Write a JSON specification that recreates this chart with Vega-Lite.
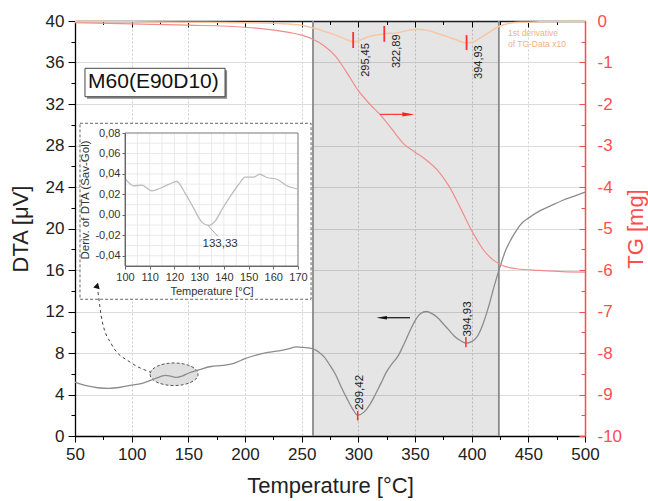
{
  "$schema": "https://vega.github.io/schema/vega-lite/v6.json",
  "width": 510,
  "height": 415,
  "autosize": {"type": "none"},
  "padding": {"left": 75, "top": 21, "right": 63, "bottom": 65},
  "background": "white",
  "config": {
    "font": "Liberation Sans",
    "view": {"stroke": null},
    "locale": {"number": {"decimal": ",", "thousands": ".", "grouping": [3], "currency": ["", " €"], "minus": "-"}},
    "axis": {"labelFont": "Liberation Sans", "titleFont": "Liberation Sans", "titleFontWeight": "normal", "labelColor": "#222", "titleColor": "#222", "domainColor": "#000", "tickColor": "#000", "labelFlush": false, "labelOverlap": false}
  },
  "resolve": {"scale": {"x": "independent", "y": "independent"}, "axis": {"x": "independent", "y": "independent"}},
  "layer": [
    {
      "data": {"values": [{"x": 50, "y": 0}, {"x": 500, "y": 40}]},
      "mark": {"type": "point", "opacity": 0},
      "encoding": {
        "x": {"field": "x", "type": "quantitative", "scale": {"domain": [50, 500], "nice": false, "zero": false},
          "axis": {"orient": "bottom", "values": [50, 100, 150, 200, 250, 300, 350, 400, 450, 500], "format": "d", "tickSize": 6, "labelPadding": 4, "labelFontSize": 17, "title": "Temperature [°C]", "titleFontSize": 22, "titlePadding": 13, "grid": true, "gridDash": [2, 2], "gridColor": "#cfcfcf", "domainWidth": 1.3}},
        "y": {"field": "y", "type": "quantitative", "scale": {"domain": [0, 40], "nice": false, "zero": false},
          "axis": {"orient": "left", "values": [0, 4, 8, 12, 16, 20, 24, 28, 32, 36, 40], "format": "d", "tickSize": 7, "labelPadding": 4, "labelFontSize": 17, "title": "DTA [μV]", "titleFontSize": 22, "titlePadding": 13, "grid": true, "gridColor": "#dcdcdc", "domainWidth": 1.3}}
      }
    },
    {
      "data": {"values": [{"x": 50, "y": -10}, {"x": 500, "y": 0}]},
      "mark": {"type": "point", "opacity": 0},
      "encoding": {
        "x": {"field": "x", "type": "quantitative", "scale": {"domain": [50, 500], "nice": false, "zero": false},
          "axis": {"orient": "top", "values": [50, 100, 150, 200, 250, 300, 350, 400, 450, 500], "labels": false, "tickSize": -6, "title": null, "grid": false, "domainWidth": 1.5, "domainColor": "#222"}},
        "y": {"field": "y", "type": "quantitative", "scale": {"domain": [-10, 0], "nice": false, "zero": false},
          "axis": {"orient": "right", "values": [0, -1, -2, -3, -4, -5, -6, -7, -8, -9, -10], "format": "d", "tickSize": -6, "labelPadding": 18, "labelFontSize": 17, "labelColor": "#ff4d4d", "tickColor": "#ff4d4d", "domainColor": "#ff4d4d", "domainWidth": 1.5, "title": "TG [mg]", "titleColor": "#ff4d4d", "titleFontSize": 22, "titleAngle": 270, "titleBaseline": "top", "titlePadding": 4, "grid": false}}
      }
    },
    {
      "data": {"values": [{"x": 50, "y": 0}, {"x": 500, "y": 40}]},
      "mark": {"type": "point", "opacity": 0},
      "encoding": {
        "x": {"field": "x", "type": "quantitative", "scale": {"domain": [50, 500], "nice": false, "zero": false},
          "axis": {"orient": "bottom", "values": [75, 125, 175, 225, 275, 325, 375, 425, 475], "labels": false, "tickSize": 3.5, "domain": false, "grid": false, "title": null}},
        "y": {"field": "y", "type": "quantitative", "scale": {"domain": [0, 40], "nice": false, "zero": false},
          "axis": {"orient": "left", "values": [2, 6, 10, 14, 18, 22, 26, 30, 34, 38], "labels": false, "tickSize": 4, "domain": false, "grid": false, "title": null}}
      }
    },
    {
      "data": {"values": [{"x": 50, "y": -10}, {"x": 500, "y": 0}]},
      "mark": {"type": "point", "opacity": 0},
      "encoding": {
        "x": {"field": "x", "type": "quantitative", "scale": {"domain": [50, 500], "nice": false, "zero": false},
          "axis": {"orient": "top", "values": [75, 125, 175, 225, 275, 325, 375, 425, 475], "labels": false, "tickSize": -3.5, "domain": false, "grid": false, "title": null}},
        "y": {"field": "y", "type": "quantitative", "scale": {"domain": [-10, 0], "nice": false, "zero": false},
          "axis": {"orient": "right", "values": [-0.5, -1.5, -2.5, -3.5, -4.5, -5.5, -6.5, -7.5, -8.5, -9.5], "labels": false, "tickSize": -4, "tickColor": "#ff4d4d", "domain": false, "grid": false, "title": null}}
      }
    },
    {
      "layer": [
        {
          "data": {"values": [{"T1": 260, "T2": 424}]},
          "mark": {"type": "rect", "fill": "#000", "opacity": 0.1},
          "encoding": {"x": {"field": "T1", "type": "quantitative", "axis": null}, "x2": {"field": "T2"}}
        },
        {
          "data": {"values": [{"T": 260}, {"T": 424}]},
          "mark": {"type": "rule", "color": "#8a8a8a", "strokeWidth": 1.8},
          "encoding": {"x": {"field": "T", "type": "quantitative", "axis": null}}
        },
        {
          "data": {"values": [{"T1": 54.4, "T2": 258.3, "D1": 13.18, "D2": 30.14}]},
          "mark": {"type": "rect", "fill": "white", "stroke": "#666", "strokeWidth": 1, "strokeDash": [3, 2]},
          "encoding": {"x": {"field": "T1", "type": "quantitative", "axis": null}, "x2": {"field": "T2"}, "y": {"field": "D1", "type": "quantitative", "axis": null}, "y2": {"field": "D2"}}
        },
        {
          "data": {"values": [{"T1": 60.6, "T2": 184.2, "D1": 32.5, "D2": 35.25}]},
          "mark": {"type": "rect", "fill": "#888", "stroke": null},
          "encoding": {"x": {"field": "T1", "type": "quantitative", "axis": null}, "x2": {"field": "T2"}, "y": {"field": "D1", "type": "quantitative", "axis": null}, "y2": {"field": "D2"}}
        },
        {
          "data": {"values": [{"T1": 58.8, "T2": 182.4, "D1": 32.7, "D2": 35.44}]},
          "mark": {"type": "rect", "fill": "white", "stroke": "#444", "strokeWidth": 1},
          "encoding": {"x": {"field": "T1", "type": "quantitative", "axis": null}, "x2": {"field": "T2"}, "y": {"field": "D1", "type": "quantitative", "axis": null}, "y2": {"field": "D2"}}
        },
        {
          "data": {"values": [{"T": 61.5, "D": 34.1, "label": "M60(E90D10)"}]},
          "mark": {"type": "text", "align": "left", "baseline": "middle", "fontSize": 21, "color": "#111"},
          "encoding": {"x": {"field": "T", "type": "quantitative", "axis": null}, "y": {"field": "D", "type": "quantitative", "axis": null}, "text": {"field": "label"}}
        },
        {
          "data": {"values": [{"T": 70.3, "D": 13.88}, {"T": 73.8, "D": 11.18}, {"T": 82.6, "D": 8.77}, {"T": 98.5, "D": 7.13}, {"T": 116.2, "D": 6.17}]},
          "mark": {"type": "line", "color": "#444", "strokeWidth": 1, "strokeDash": [3, 3], "interpolate": "monotone"},
          "encoding": {"x": {"field": "T", "type": "quantitative", "axis": null}, "y": {"field": "D", "type": "quantitative", "axis": null}}
        },
        {
          "data": {"values": [{"T": 69.6, "D": 14.5}]},
          "mark": {"type": "point", "shape": "triangle-up", "size": 45, "filled": true, "color": "#111", "opacity": 1, "angle": 15},
          "encoding": {"x": {"field": "T", "type": "quantitative", "axis": null}, "y": {"field": "D", "type": "quantitative", "axis": null}}
        },
        {
          "data": {"values": [{"T": 137.4, "D": 5.95}]},
          "mark": {"type": "point", "shape": "M -1 0 A 1 0.47 0 1 0 1 0 A 1 0.47 0 1 0 -1 0 Z", "size": 2304, "fill": "#dcdcdc", "fillOpacity": 0.9, "stroke": "#555", "strokeWidth": 1, "strokeDash": [3, 2], "opacity": 1},
          "encoding": {"x": {"field": "T", "type": "quantitative", "axis": null}, "y": {"field": "D", "type": "quantitative", "axis": null}}
        },
        {
          "data": {"values": [
            {"T": 50, "D": 5.2}, {"T": 55, "D": 5.0}, {"T": 60, "D": 4.85}, {"T": 70, "D": 4.65}, {"T": 80, "D": 4.6}, {"T": 90, "D": 4.7},
            {"T": 100, "D": 4.9}, {"T": 110, "D": 5.1}, {"T": 120, "D": 5.5}, {"T": 130, "D": 5.85}, {"T": 135, "D": 5.75}, {"T": 140, "D": 5.65},
            {"T": 145, "D": 5.8}, {"T": 150, "D": 6.05}, {"T": 160, "D": 6.4}, {"T": 170, "D": 6.7}, {"T": 180, "D": 6.8}, {"T": 190, "D": 7.0},
            {"T": 200, "D": 7.45}, {"T": 210, "D": 7.8}, {"T": 220, "D": 8.05}, {"T": 230, "D": 8.2}, {"T": 240, "D": 8.45}, {"T": 245, "D": 8.6},
            {"T": 250, "D": 8.55}, {"T": 255, "D": 8.5}, {"T": 260, "D": 8.4}, {"T": 265, "D": 8.1}, {"T": 270, "D": 7.6}, {"T": 275, "D": 6.8},
            {"T": 280, "D": 5.9}, {"T": 285, "D": 4.7}, {"T": 290, "D": 3.6}, {"T": 295, "D": 2.6}, {"T": 299.42, "D": 2.0}, {"T": 305, "D": 2.3},
            {"T": 310, "D": 3.0}, {"T": 315, "D": 4.0}, {"T": 320, "D": 5.1}, {"T": 325, "D": 6.2}, {"T": 330, "D": 7.0}, {"T": 335, "D": 7.7},
            {"T": 340, "D": 8.8}, {"T": 345, "D": 10.0}, {"T": 350, "D": 11.1}, {"T": 355, "D": 11.8}, {"T": 360, "D": 12.0}, {"T": 365, "D": 11.8},
            {"T": 370, "D": 11.4}, {"T": 375, "D": 10.8}, {"T": 380, "D": 10.2}, {"T": 385, "D": 9.6}, {"T": 390, "D": 9.2}, {"T": 394.93, "D": 8.95},
            {"T": 400, "D": 9.1}, {"T": 405, "D": 9.6}, {"T": 410, "D": 10.8}, {"T": 415, "D": 12.5}, {"T": 420, "D": 14.5}, {"T": 425, "D": 16.3},
            {"T": 430, "D": 17.9}, {"T": 435, "D": 19.0}, {"T": 440, "D": 19.9}, {"T": 445, "D": 20.6}, {"T": 450, "D": 21.0}, {"T": 460, "D": 21.7},
            {"T": 470, "D": 22.2}, {"T": 480, "D": 22.7}, {"T": 490, "D": 23.1}, {"T": 500, "D": 23.5}
          ]},
          "mark": {"type": "line", "color": "#8c8c8c", "strokeWidth": 1.3, "interpolate": "monotone"},
          "encoding": {
            "x": {"field": "T", "type": "quantitative", "scale": {"domain": [50, 500], "nice": false, "zero": false}, "axis": null},
            "y": {"field": "D", "type": "quantitative", "scale": {"domain": [0, 40], "nice": false, "zero": false}, "axis": null}
          }
        },
        {
          "data": {"values": [{"T": 299.42, "a": 1.5, "b": 2.4}, {"T": 394.93, "a": 8.55, "b": 9.55}]},
          "mark": {"type": "rule", "color": "#ff3030", "strokeWidth": 1.5},
          "encoding": {"x": {"field": "T", "type": "quantitative", "axis": null}, "y": {"field": "a", "type": "quantitative", "axis": null}, "y2": {"field": "b"}}
        },
        {
          "data": {"values": [{"T": 301.5, "D": 4.19, "label": "299,42"}, {"T": 397.2, "D": 11.28, "label": "394,93"}]},
          "mark": {"type": "text", "angle": 270, "align": "center", "baseline": "middle", "fontSize": 11.5, "color": "#222"},
          "encoding": {"x": {"field": "T", "type": "quantitative", "axis": null}, "y": {"field": "D", "type": "quantitative", "axis": null}, "text": {"field": "label"}}
        },
        {
          "data": {"values": [{"T": 323.5, "D": 11.4}, {"T": 345.6, "D": 11.4}]},
          "mark": {"type": "line", "color": "#111", "strokeWidth": 1.2},
          "encoding": {"x": {"field": "T", "type": "quantitative", "axis": null}, "y": {"field": "D", "type": "quantitative", "axis": null}}
        },
        {
          "data": {"values": [{"T": 320.6, "D": 11.4}]},
          "mark": {"type": "point", "shape": "M 1 -0.35 L -1 0 L 1 0.35 Z", "size": 110, "filled": true, "color": "#111", "opacity": 1},
          "encoding": {"x": {"field": "T", "type": "quantitative", "axis": null}, "y": {"field": "D", "type": "quantitative", "axis": null}}
        }
      ]
    },
    {
      "layer": [
        {
          "data": {"values": [
            {"T": 50, "G": -0.04}, {"T": 100, "G": -0.07}, {"T": 150, "G": -0.1}, {"T": 200, "G": -0.15}, {"T": 220, "G": -0.2}, {"T": 240, "G": -0.28},
            {"T": 250, "G": -0.34}, {"T": 260, "G": -0.44}, {"T": 270, "G": -0.6}, {"T": 280, "G": -0.85}, {"T": 290, "G": -1.25}, {"T": 300, "G": -1.68},
            {"T": 310, "G": -2.0}, {"T": 320, "G": -2.28}, {"T": 330, "G": -2.62}, {"T": 340, "G": -2.96}, {"T": 350, "G": -3.16}, {"T": 360, "G": -3.35},
            {"T": 370, "G": -3.6}, {"T": 380, "G": -3.98}, {"T": 390, "G": -4.5}, {"T": 400, "G": -5.05}, {"T": 410, "G": -5.5}, {"T": 420, "G": -5.78},
            {"T": 425, "G": -5.86}, {"T": 430, "G": -5.92}, {"T": 440, "G": -5.97}, {"T": 460, "G": -6.01}, {"T": 480, "G": -6.04}, {"T": 500, "G": -6.05}
          ]},
          "mark": {"type": "line", "color": "#f28b8b", "strokeWidth": 1.2, "interpolate": "monotone"},
          "encoding": {
            "x": {"field": "T", "type": "quantitative", "scale": {"domain": [50, 500], "nice": false, "zero": false}, "axis": null},
            "y": {"field": "G", "type": "quantitative", "scale": {"domain": [-10, 0], "nice": false, "zero": false}, "axis": null}
          }
        },
        {
          "data": {"values": [
            {"T": 50, "d": -0.01}, {"T": 100, "d": -0.02}, {"T": 150, "d": -0.03}, {"T": 200, "d": -0.04}, {"T": 230, "d": -0.06}, {"T": 250, "d": -0.1},
            {"T": 260, "d": -0.17}, {"T": 270, "d": -0.25}, {"T": 280, "d": -0.34}, {"T": 290, "d": -0.45}, {"T": 295.45, "d": -0.5}, {"T": 300, "d": -0.48},
            {"T": 305, "d": -0.42}, {"T": 313, "d": -0.35}, {"T": 322.89, "d": -0.31}, {"T": 335, "d": -0.28}, {"T": 345, "d": -0.22}, {"T": 352, "d": -0.2},
            {"T": 360, "d": -0.22}, {"T": 372, "d": -0.32}, {"T": 385, "d": -0.44}, {"T": 394.93, "d": -0.53}, {"T": 400, "d": -0.52}, {"T": 408, "d": -0.4},
            {"T": 415, "d": -0.28}, {"T": 425, "d": -0.12}, {"T": 435, "d": -0.05}, {"T": 445, "d": -0.03}, {"T": 460, "d": -0.02}, {"T": 480, "d": -0.01}, {"T": 500, "d": -0.01}
          ]},
          "mark": {"type": "line", "color": "#f7c6a3", "strokeWidth": 1.5, "interpolate": "monotone"},
          "encoding": {"x": {"field": "T", "type": "quantitative", "axis": null}, "y": {"field": "d", "type": "quantitative", "axis": null}}
        },
        {
          "data": {"values": [{"T": 295.45, "a": -0.65, "b": -0.265}, {"T": 322.89, "a": -0.5, "b": -0.12}, {"T": 395.5, "a": -0.7, "b": -0.34}]},
          "mark": {"type": "rule", "color": "#ff3030", "strokeWidth": 1.8},
          "encoding": {"x": {"field": "T", "type": "quantitative", "axis": null}, "y": {"field": "a", "type": "quantitative", "axis": null}, "y2": {"field": "b"}}
        },
        {
          "data": {"values": [{"T": 306.8, "G": -0.94, "label": "295,45"}, {"T": 334.1, "G": -0.73, "label": "322,89"}, {"T": 406.5, "G": -0.99, "label": "394,93"}]},
          "mark": {"type": "text", "angle": 270, "align": "center", "baseline": "middle", "fontSize": 11, "color": "#222"},
          "encoding": {"x": {"field": "T", "type": "quantitative", "axis": null}, "y": {"field": "G", "type": "quantitative", "axis": null}, "text": {"field": "label"}}
        },
        {
          "data": {"values": [{"T": 432, "G": -0.29, "label": "1st derivative"}, {"T": 432, "G": -0.555, "label": "of TG-Data x10"}]},
          "mark": {"type": "text", "align": "left", "baseline": "middle", "fontSize": 8.5, "color": "#f4b183"},
          "encoding": {"x": {"field": "T", "type": "quantitative", "axis": null}, "y": {"field": "G", "type": "quantitative", "axis": null}, "text": {"field": "label"}}
        },
        {
          "data": {"values": [{"T": 319.1, "G": -2.25}, {"T": 343, "G": -2.25}]},
          "mark": {"type": "line", "color": "#ff3b3b", "strokeWidth": 1.2},
          "encoding": {"x": {"field": "T", "type": "quantitative", "axis": null}, "y": {"field": "G", "type": "quantitative", "axis": null}}
        },
        {
          "data": {"values": [{"T": 344.1, "G": -2.25}]},
          "mark": {"type": "point", "shape": "M -1 -0.35 L 1 0 L -1 0.35 Z", "size": 144, "filled": true, "color": "#ff2020", "opacity": 1},
          "encoding": {"x": {"field": "T", "type": "quantitative", "axis": null}, "y": {"field": "G", "type": "quantitative", "axis": null}}
        }
      ]
    },
    {
      "layer": [
        {
          "data": {"values": [{"g": 105}, {"g": 110}, {"g": 115}, {"g": 120}, {"g": 125}, {"g": 130}, {"g": 135}, {"g": 140}, {"g": 145}, {"g": 150}, {"g": 155}, {"g": 160}, {"g": 165}]},
          "mark": {"type": "rule", "color": "#e4e4e4", "strokeWidth": 0.8},
          "encoding": {"x": {"field": "g", "type": "quantitative", "axis": null, "scale": {"domain": [100, 170], "range": [50, 223], "nice": false, "zero": false}}, "y": {"datum": -0.05, "type": "quantitative", "axis": null, "scale": {"domain": [-0.05, 0.08], "range": [245, 112], "nice": false, "zero": false}}, "y2": {"datum": 0.08}}
        },
        {
          "data": {"values": [{"g": -0.04}, {"g": -0.03}, {"g": -0.02}, {"g": -0.01}, {"g": 0}, {"g": 0.01}, {"g": 0.02}, {"g": 0.03}, {"g": 0.04}, {"g": 0.05}, {"g": 0.06}, {"g": 0.07}]},
          "mark": {"type": "rule", "color": "#e4e4e4", "strokeWidth": 0.8},
          "encoding": {"y": {"field": "g", "type": "quantitative", "axis": null}, "x": {"datum": 100, "type": "quantitative", "axis": null}, "x2": {"datum": 170}}
        },
        {
          "data": {"values": [{}]},
          "mark": {"type": "rect", "fill": null, "fillOpacity": 0, "stroke": "#777", "strokeWidth": 1},
          "encoding": {"x": {"datum": 100, "type": "quantitative", "axis": null}, "x2": {"datum": 170}, "y": {"datum": -0.05, "type": "quantitative", "axis": null}, "y2": {"datum": 0.08}}
        },
        {
          "data": {"values": [
            {"T": 100, "v": 0.0358}, {"T": 103.4, "v": 0.0284}, {"T": 106.8, "v": 0.029}, {"T": 110.8, "v": 0.0235}, {"T": 114.2, "v": 0.026},
            {"T": 118.2, "v": 0.0303}, {"T": 120.9, "v": 0.0326}, {"T": 124.3, "v": 0.0213}, {"T": 127.7, "v": 0.0068}, {"T": 131.1, "v": -0.0071},
            {"T": 133.8, "v": -0.0103}, {"T": 136.5, "v": -0.0061}, {"T": 139.2, "v": 0.0052}, {"T": 142.6, "v": 0.018}, {"T": 145.9, "v": 0.0294},
            {"T": 148.6, "v": 0.0368}, {"T": 152, "v": 0.0368}, {"T": 154.5, "v": 0.0397}, {"T": 157.4, "v": 0.0365}, {"T": 161.5, "v": 0.0348},
            {"T": 165.5, "v": 0.0284}, {"T": 170, "v": 0.0252}
          ]},
          "mark": {"type": "line", "color": "#bdbdbd", "strokeWidth": 1.3, "interpolate": "monotone"},
          "encoding": {"x": {"field": "T", "type": "quantitative", "axis": null}, "y": {"field": "v", "type": "quantitative", "axis": null}}
        },
        {
          "data": {"values": [{"T": 133.6, "v": -0.0105}, {"T": 137.6, "v": -0.021}]},
          "mark": {"type": "line", "color": "#aaa", "strokeWidth": 1},
          "encoding": {"x": {"field": "T", "type": "quantitative", "axis": null}, "y": {"field": "v", "type": "quantitative", "axis": null}}
        },
        {
          "data": {"values": [{"T": 138.5, "v": -0.0285, "label": "133,33"}]},
          "mark": {"type": "text", "align": "center", "baseline": "middle", "fontSize": 11.5, "color": "#333"},
          "encoding": {"x": {"field": "T", "type": "quantitative", "axis": null}, "y": {"field": "v", "type": "quantitative", "axis": null}, "text": {"field": "label"}}
        }
      ]
    },
    {
      "data": {"values": [{"x": 100, "y": -0.05}, {"x": 170, "y": 0.08}]},
      "mark": {"type": "point", "opacity": 0},
      "encoding": {
        "x": {"field": "x", "type": "quantitative", "scale": {"domain": [100, 170], "range": [50, 223], "nice": false, "zero": false},
          "axis": {"orient": "bottom", "offset": -170, "zindex": 1, "values": [100, 110, 120, 130, 140, 150, 160, 170], "format": "d", "tickSize": 3, "labelPadding": 2, "labelFontSize": 11, "labelColor": "#333", "title": "Temperature [°C]", "titleFontSize": 11, "titleColor": "#333", "titlePadding": 3, "grid": false, "domainColor": "#666", "tickColor": "#666"}},
        "y": {"field": "y", "type": "quantitative", "scale": {"domain": [-0.05, 0.08], "range": [245, 112], "nice": false, "zero": false},
          "axis": {"orient": "left", "offset": -50, "zindex": 1, "values": [-0.04, -0.02, 0, 0.02, 0.04, 0.06, 0.08], "format": ".2f", "tickSize": 3, "labelPadding": 2, "labelFontSize": 11, "labelColor": "#333", "title": "Deriv. of DTA (Sav-Gol)", "titleFontSize": 11.5, "titleColor": "#333", "titlePadding": 4, "grid": false, "domainColor": "#666", "tickColor": "#666"}}
      }
    }
  ]
}
